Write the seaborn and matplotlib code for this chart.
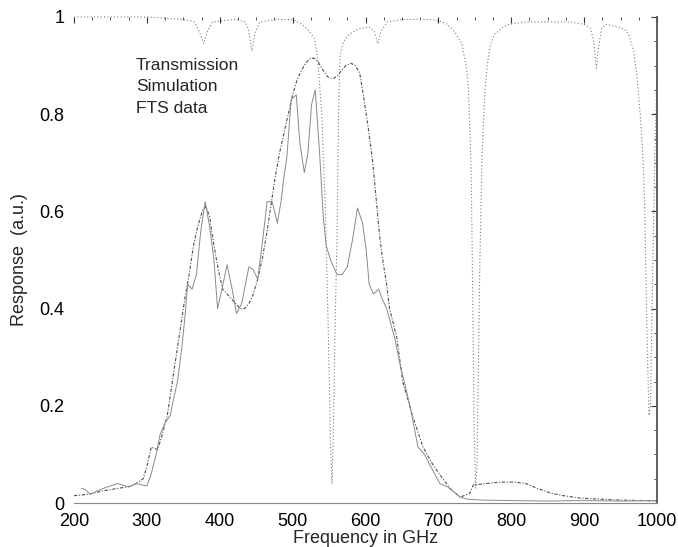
"""
Filter response: transmission model, simulation and FTS measurement.
"""

import matplotlib

matplotlib.use("Agg")
import matplotlib.pyplot as plt
from matplotlib.ticker import MultipleLocator, StrMethodFormatter
import seaborn as sns

# --- data ----------------------------------------------------------------
trans_freq = [200, 250, 300, 350, 365, 372, 378, 383, 390, 420, 435, 440, 444,
              448, 455, 480, 500, 513, 523, 530, 534, 540, 545, 549, 552, 554,
              556, 558, 561, 563, 565, 570, 578, 590, 605, 612, 617, 621, 630,
              650, 690, 705, 712, 722, 732, 738, 741, 743, 745, 747, 749, 751,
              753, 755, 757, 760, 764, 767, 771, 777, 782, 789, 797, 820, 880,
              900, 909, 913, 917, 919, 924, 930, 946, 955, 961, 968, 973, 978,
              981, 983, 985, 987, 989, 991, 993, 995, 997, 1000]
trans_val = [1.0, 1.0, 1.0, 0.995, 0.99, 0.97, 0.945, 0.97, 0.99, 0.995, 0.99,
             0.97, 0.93, 0.965, 0.99, 0.995, 0.995, 0.985, 0.97, 0.955, 0.92,
             0.8, 0.6, 0.35, 0.12, 0.04, 0.15, 0.35, 0.55, 0.8, 0.92, 0.95,
             0.965, 0.975, 0.98, 0.97, 0.945, 0.97, 0.99, 0.995, 0.995, 0.99,
             0.985, 0.97, 0.946, 0.90, 0.86, 0.78, 0.68, 0.45, 0.15, 0.03, 0.08,
             0.3, 0.5, 0.72, 0.85, 0.9, 0.94, 0.965, 0.97, 0.98, 0.985, 0.99,
             0.99, 0.985, 0.976, 0.95, 0.895, 0.93, 0.976, 0.985, 0.98, 0.975,
             0.965, 0.93, 0.87, 0.78, 0.7, 0.62, 0.45, 0.3, 0.18, 0.2, 0.38,
             0.55, 0.72, 0.88]

sim_freq = [200, 220, 240, 260, 280, 295, 300, 306, 315, 320, 328, 334, 340,
            346, 352, 358, 364, 370, 376, 381, 386, 392, 398, 404, 410, 416,
            422, 428, 434, 440, 446, 452, 458, 464, 470, 476, 482, 488, 494,
            500, 506, 512, 518, 524, 530, 536, 542, 548, 555, 561, 567, 573,
            580, 586, 592, 598, 604, 610, 615, 619, 623, 629, 633, 643, 651,
            665, 679, 692, 706, 716, 730, 743, 748, 765, 785, 805, 820, 836,
            855, 872, 895, 920, 950, 980, 1000]
sim_val = [0.015, 0.018, 0.025, 0.03, 0.035, 0.05, 0.075, 0.115, 0.11, 0.135,
           0.18, 0.24, 0.30, 0.36, 0.42, 0.47, 0.53, 0.57, 0.60, 0.61, 0.59,
           0.53, 0.48, 0.44, 0.43, 0.42, 0.41, 0.40, 0.40, 0.41, 0.43, 0.46,
           0.50, 0.55, 0.61, 0.67, 0.72, 0.76, 0.80, 0.84, 0.87, 0.89, 0.905,
           0.915, 0.915, 0.905, 0.89, 0.877, 0.873, 0.878, 0.89, 0.90, 0.905,
           0.90, 0.885, 0.83, 0.77, 0.70, 0.62, 0.555, 0.506, 0.45, 0.40, 0.34,
           0.25, 0.177, 0.115, 0.08, 0.05, 0.03, 0.012, 0.02, 0.037, 0.04,
           0.043, 0.043, 0.04, 0.03, 0.02, 0.015, 0.01, 0.008, 0.006, 0.005,
           0.004]

fts_freq = [210, 215, 222, 240, 260, 275, 285, 300, 305, 312, 318, 325, 332,
            336, 342, 348, 352, 356, 362, 368, 374, 380, 386, 392, 397, 403,
            410, 417, 423, 430, 440, 446, 452, 458, 465, 472, 479, 484, 488,
            492, 498, 505, 510, 516, 521, 526, 531, 537, 542, 546, 552, 561,
            568, 575, 582, 589, 596, 601, 605, 611, 618, 623, 629, 640, 647,
            657, 663, 672, 681, 692, 702, 713, 730, 739, 760, 800, 850, 900,
            950, 1000]
fts_val = [0.03, 0.028, 0.018, 0.03, 0.04, 0.033, 0.04, 0.035, 0.055, 0.095,
           0.14, 0.165, 0.18, 0.21, 0.25, 0.32, 0.38, 0.45, 0.44, 0.47, 0.56,
           0.62, 0.57, 0.50, 0.40, 0.44, 0.49, 0.44, 0.39, 0.41, 0.486, 0.48,
           0.46, 0.53, 0.62, 0.62, 0.576, 0.62, 0.67, 0.71, 0.83, 0.84, 0.74,
           0.68, 0.72, 0.82, 0.85, 0.72, 0.59, 0.53, 0.50, 0.47, 0.47, 0.486,
           0.54, 0.607, 0.576, 0.52, 0.45, 0.43, 0.44, 0.42, 0.40, 0.34, 0.288,
           0.226, 0.185, 0.115, 0.10, 0.068, 0.04, 0.033, 0.012, 0.008, 0.006,
           0.005, 0.004, 0.005, 0.004, 0.005]

labels = ["Transmission", "Simulation", "FTS data"]

# --- plot ------------------------------------------------------------------
sns.set_style("white")
plt.rcParams["font.family"] = ["Liberation Sans", "DejaVu Sans"]

fig = plt.figure(figsize=(6.78, 5.47), dpi=100)
ax = fig.add_axes([74 / 678, 1 - 503 / 547, 583 / 678, 486 / 547])

sns.lineplot(x=trans_freq, y=trans_val, ax=ax, sort=False, estimator=None,
             color="#7a7a7a", lw=0.8, linestyle=(0, (1, 2)), label=labels[0])
sns.lineplot(x=sim_freq, y=sim_val, ax=ax, sort=False, estimator=None,
             color="#505050", lw=0.8, linestyle=(0, (3, 1.5, 1, 1.5)),
             label=labels[1])
sns.lineplot(x=fts_freq, y=fts_val, ax=ax, sort=False, estimator=None,
             color="#8a8a8a", lw=0.7, label=labels[2])

for ln in ax.lines:
    ln.set_clip_on(False)

ax.set_xlim(200, 1000)
ax.set_ylim(0, 1)
ax.xaxis.set_major_locator(MultipleLocator(100))
ax.xaxis.set_minor_locator(MultipleLocator(25))
ax.yaxis.set_major_locator(MultipleLocator(0.2))
ax.yaxis.set_minor_locator(MultipleLocator(0.05))
ax.yaxis.set_major_formatter(StrMethodFormatter("{x:g}"))

ax.tick_params(which="both", direction="in", top=True, right=True,
               color="#333333", labelsize=13, labelcolor="black")
ax.tick_params(which="major", length=4, width=0.8, pad=7)
ax.tick_params(which="minor", length=2, width=0.6)

ax.spines["left"].set_visible(False)
ax.spines["top"].set_visible(False)
ax.spines["bottom"].set_color("#888888")
ax.spines["bottom"].set_linestyle((0, (1, 1)))
ax.spines["bottom"].set_linewidth(0.8)
ax.spines["right"].set_color("#555555")
ax.spines["right"].set_linewidth(1.3)

ax.set_xlabel("Frequency in GHz", fontsize=13, labelpad=0)
ax.set_ylabel("Response  (a.u.)", fontsize=13, labelpad=8)

leg = ax.legend(loc="upper left", bbox_to_anchor=(136 / 678, 1 - 58 / 547),
                bbox_transform=fig.transFigure, frameon=False,
                handlelength=0, handletextpad=0, borderpad=0,
                borderaxespad=0, labelspacing=0.35, fontsize=12.5)
for h in leg.legend_handles:
    h.set_visible(False)

fig.savefig("out.png", dpi=100)
plt.close(fig)
